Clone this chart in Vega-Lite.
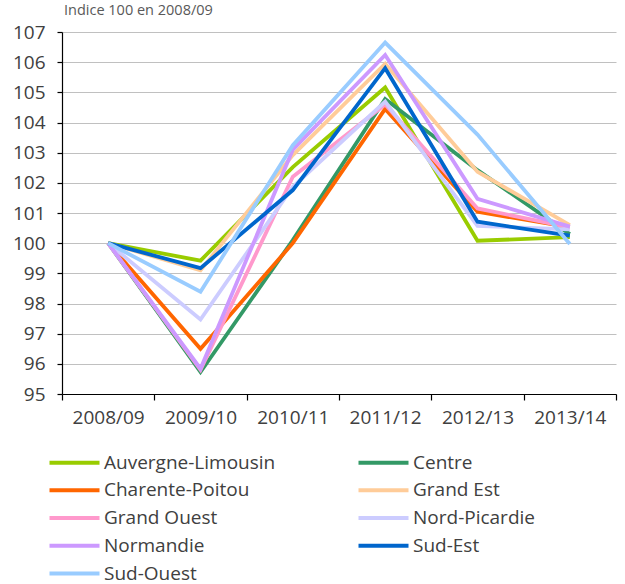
{
  "$schema": "https://vega.github.io/schema/vega-lite/v6.json",
  "autosize": "none",
  "width": 554,
  "height": 362,
  "padding": {"left": 62, "top": 32, "right": 9, "bottom": 190},
  "background": "white",
  "title": {"text": "Indice 100 en 2008/09", "anchor": "start", "frame": "group", "fontSize": 14.5, "font": "Open Sans", "fontWeight": "normal", "color": "#595959", "offset": 5, "dx": 2},
  "config": {
    "view": {"stroke": null},
    "font": "Open Sans"
  },
  "data": {"values": [
    {"region": "Auvergne-Limousin", "year": "2008/09", "value": 100},
    {"region": "Auvergne-Limousin", "year": "2009/10", "value": 99.42},
    {"region": "Auvergne-Limousin", "year": "2010/11", "value": 102.52},
    {"region": "Auvergne-Limousin", "year": "2011/12", "value": 105.16},
    {"region": "Auvergne-Limousin", "year": "2012/13", "value": 100.08},
    {"region": "Auvergne-Limousin", "year": "2013/14", "value": 100.2},
    {"region": "Centre", "year": "2008/09", "value": 100},
    {"region": "Centre", "year": "2009/10", "value": 95.73},
    {"region": "Centre", "year": "2010/11", "value": 100.1},
    {"region": "Centre", "year": "2011/12", "value": 104.78},
    {"region": "Centre", "year": "2012/13", "value": 102.42},
    {"region": "Centre", "year": "2013/14", "value": 100.3},
    {"region": "Charente-Poitou", "year": "2008/09", "value": 100},
    {"region": "Charente-Poitou", "year": "2009/10", "value": 96.5},
    {"region": "Charente-Poitou", "year": "2010/11", "value": 100.0},
    {"region": "Charente-Poitou", "year": "2011/12", "value": 104.45},
    {"region": "Charente-Poitou", "year": "2012/13", "value": 101.04},
    {"region": "Charente-Poitou", "year": "2013/14", "value": 100.53},
    {"region": "Grand Est", "year": "2008/09", "value": 100},
    {"region": "Grand Est", "year": "2009/10", "value": 99.1},
    {"region": "Grand Est", "year": "2010/11", "value": 102.92},
    {"region": "Grand Est", "year": "2011/12", "value": 105.95},
    {"region": "Grand Est", "year": "2012/13", "value": 102.37},
    {"region": "Grand Est", "year": "2013/14", "value": 100.6},
    {"region": "Grand Ouest", "year": "2008/09", "value": 100},
    {"region": "Grand Ouest", "year": "2009/10", "value": 95.8},
    {"region": "Grand Ouest", "year": "2010/11", "value": 102.2},
    {"region": "Grand Ouest", "year": "2011/12", "value": 104.6},
    {"region": "Grand Ouest", "year": "2012/13", "value": 101.15},
    {"region": "Grand Ouest", "year": "2013/14", "value": 100.52},
    {"region": "Nord-Picardie", "year": "2008/09", "value": 100},
    {"region": "Nord-Picardie", "year": "2009/10", "value": 97.47},
    {"region": "Nord-Picardie", "year": "2010/11", "value": 101.87},
    {"region": "Nord-Picardie", "year": "2011/12", "value": 104.69},
    {"region": "Nord-Picardie", "year": "2012/13", "value": 100.57},
    {"region": "Nord-Picardie", "year": "2013/14", "value": 100.46},
    {"region": "Normandie", "year": "2008/09", "value": 100},
    {"region": "Normandie", "year": "2009/10", "value": 95.84},
    {"region": "Normandie", "year": "2010/11", "value": 103.1},
    {"region": "Normandie", "year": "2011/12", "value": 106.24},
    {"region": "Normandie", "year": "2012/13", "value": 101.47},
    {"region": "Normandie", "year": "2013/14", "value": 100.55},
    {"region": "Sud-Est", "year": "2008/09", "value": 100},
    {"region": "Sud-Est", "year": "2009/10", "value": 99.17},
    {"region": "Sud-Est", "year": "2010/11", "value": 101.76},
    {"region": "Sud-Est", "year": "2011/12", "value": 105.8},
    {"region": "Sud-Est", "year": "2012/13", "value": 100.71},
    {"region": "Sud-Est", "year": "2013/14", "value": 100.25},
    {"region": "Sud-Ouest", "year": "2008/09", "value": 100},
    {"region": "Sud-Ouest", "year": "2009/10", "value": 98.39},
    {"region": "Sud-Ouest", "year": "2010/11", "value": 103.25},
    {"region": "Sud-Ouest", "year": "2011/12", "value": 106.65},
    {"region": "Sud-Ouest", "year": "2012/13", "value": 103.6},
    {"region": "Sud-Ouest", "year": "2013/14", "value": 99.97}
  ]},
  "mark": {"type": "line", "strokeWidth": 3.8, "strokeJoin": "miter", "clip": false},
  "encoding": {
    "x": {
      "field": "year", "type": "ordinal", "bandPosition": 0.5,
      "scale": {"type": "band", "paddingInner": 0, "paddingOuter": 0},
      "axis": {
        "title": null, "tickBand": "extent", "grid": false, "labelAngle": 0,
        "domainColor": "#000000", "domainWidth": 1.2, "tickColor": "#000000", "tickSize": 6, "tickWidth": 1.2,
        "labelFontSize": 19, "labelColor": "#404040", "labelPadding": 8, "labelFont": "Open Sans"
      }
    },
    "y": {
      "field": "value", "type": "quantitative",
      "scale": {"domain": [95, 107], "nice": false, "zero": false},
      "axis": {
        "title": null, "values": [95, 96, 97, 98, 99, 100, 101, 102, 103, 104, 105, 106, 107],
        "grid": true, "gridColor": "#c0c0c0", "gridWidth": 1,
        "domainColor": "#000000", "domainWidth": 1.2, "tickColor": "#000000", "tickSize": 5, "tickWidth": 1.2,
        "labelFontSize": 19, "labelColor": "#404040", "labelPadding": 12, "labelFont": "Open Sans"
      }
    },
    "color": {
      "field": "region", "type": "nominal",
      "scale": {
        "domain": ["Auvergne-Limousin", "Centre", "Charente-Poitou", "Grand Est", "Grand Ouest", "Nord-Picardie", "Normandie", "Sud-Est", "Sud-Ouest"],
        "range": ["#99cc00", "#339966", "#ff6600", "#ffcc99", "#ff99cc", "#ccccff", "#cc99ff", "#0066cc", "#99ccff"]
      },
      "legend": {
        "title": null, "orient": "none", "legendX": 3, "legendY": 421, "columns": 2, "direction": "horizontal",
        "symbolType": "M-5,0H5", "symbolSize": 100, "symbolStrokeWidth": 4, "symbolOffset": 0,
        "labelFontSize": 19, "labelColor": "#404040", "labelFont": "Open Sans", "labelOffset": 20, "labelLimit": 300,
        "columnPadding": 74, "rowPadding": 7.75, "padding": 0
      }
    }
  }
}
